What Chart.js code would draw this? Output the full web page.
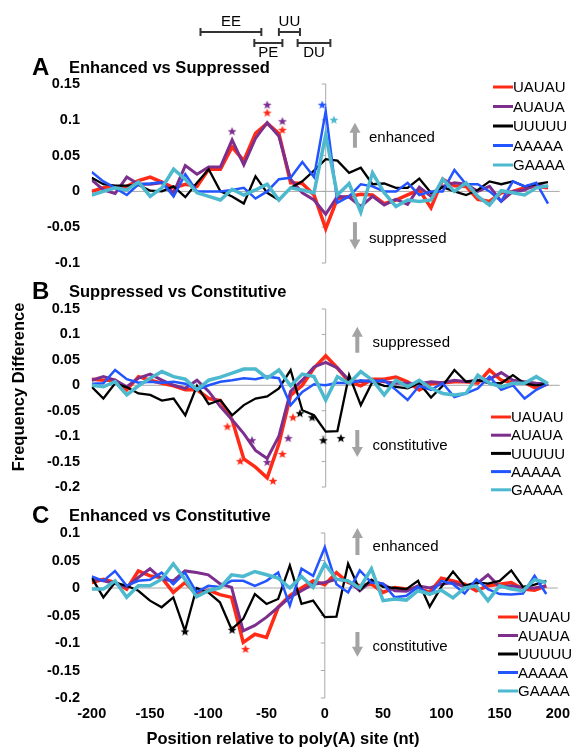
<!DOCTYPE html>
<html lang="en">
<head>
<meta charset="UTF-8">
<title>Frequency Difference by motif</title>
<script src="https://cdn.jsdelivr.net/npm/chart.js"></script>
<style>
  body { margin: 0; background: #fff; }
  #wrap { position: relative; width: 577px; height: 751px; }
  #wrap canvas { position: absolute; left: 0; top: 0; }
</style>
</head>
<body>
<div id="wrap">
  <canvas id="panelA" width="577" height="751"></canvas>
  <canvas id="panelB" width="577" height="751"></canvas>
  <canvas id="panelC" width="577" height="751"></canvas>
</div>
<script>
const positions = [-200, -190, -180, -170, -160, -150, -140, -130, -120, -110,
                   -100, -90, -80, -70, -60, -50, -40, -30, -20, -10,
                   0, 10, 20, 30, 40, 50, 60, 70, 80, 90,
                   100, 110, 120, 130, 140, 150, 160, 170, 180, 190];
const motifs = ['UAUAU', 'AUAUA', 'UUUUU', 'AAAAA', 'GAAAA'];

// A: Enhanced vs Suppressed
const aUAUAU = [0, 0.005, 0.006, 0.007, 0.015, 0.02, 0.013, 0.005, 0.01, 0.007, 0.031, 0.031, 0.062, 0.043, 0.081, 0.095, 0.081, 0.012, 0.011, -0.005, -0.052, -0.01, -0.007, -0.004, -0.005, -0.017, -0.012, -0.005, 0.002, -0.023, 0.017, 0.008, 0.007, -0.011, -0.014, -0.002, 0, 0.005, 0.007, 0.005];
const aAUAUA = [0.016, 0.002, -0.003, 0.02, 0.01, 0.01, 0.012, -0.002, 0.036, 0.024, 0.034, 0.034, 0.072, 0.037, 0.074, 0.096, 0.077, 0.017, -0.002, -0.012, -0.032, -0.007, -0.008, -0.021, -0.007, -0.019, -0.011, -0.018, 0.006, -0.007, 0.007, 0.012, 0.01, 0, 0.007, -0.014, 0, 0.002, 0.01, 0.006];
const aUUUUU = [0.019, 0.01, 0.008, 0.008, 0.009, 0.001, 0, 0.007, -0.008, 0.012, 0.031, 0, -0.007, -0.017, 0.021, -0.002, -0.012, 0.005, 0.014, 0.029, 0.045, 0.043, 0.026, 0.033, 0.01, 0.011, 0.005, 0.005, 0.018, -0.002, 0.006, 0, -0.005, 0.002, 0.014, 0.01, 0.014, 0.007, 0.01, 0.013];
const aAAAAA = [0.027, 0.014, 0.005, -0.005, 0.01, 0.011, 0.013, -0.007, 0.024, 0, 0, 0, 0.002, 0.005, -0.01, 0, 0.017, 0.019, 0.041, 0.02, 0.112, -0.016, -0.007, 0.01, 0.007, 0, 0, 0.012, -0.005, 0, 0, 0.03, 0.01, 0.01, 0, -0.014, 0.014, 0.007, 0.012, -0.017];
const aGAAAA = [-0.005, 0, 0.005, 0.002, 0.013, -0.007, 0.005, 0.031, 0.017, -0.002, -0.007, -0.012, 0.003, -0.005, 0.002, 0.01, -0.012, 0.005, 0.002, -0.002, 0.079, -0.005, 0.011, -0.029, 0.026, -0.002, -0.021, -0.012, -0.014, -0.012, 0.017, 0, 0.012, -0.007, -0.019, 0.001, -0.002, -0.005, 0.005, 0.008];
const aStars = [['AUAUA', -80, 0.084], ['AUAUA', -50, 0.121], ['UAUAU', -50, 0.11], ['AUAUA', -37, 0.098], ['UAUAU', -37, 0.086], ['AAAAA', -3, 0.121], ['GAAAA', 7, 0.1]];

// B: Suppressed vs Constitutive
const bUAUAU = [0.012, 0.01, 0.01, -0.009, 0.017, 0.01, 0.004, -0.001, -0.009, -0.009, -0.026, -0.03, -0.068, -0.145, -0.161, -0.182, -0.115, -0.02, 0, 0.034, 0.058, 0.034, 0.007, -0.001, 0.012, 0.012, 0.016, 0.007, -0.009, 0.003, 0.005, 0.007, 0.007, 0.004, 0.03, 0.01, 0.005, 0.005, -0.006, 0.003];
const bAUAUA = [0.01, 0.017, 0.01, -0.003, 0.014, 0.022, 0.01, 0, -0.006, 0.01, -0.012, -0.042, -0.068, -0.095, -0.128, -0.144, -0.1, -0.012, 0.01, 0.036, 0.045, 0.034, 0.01, 0.007, 0.01, 0.007, 0.004, 0.004, 0.003, 0.007, 0.005, 0.01, 0.007, 0.01, 0.012, 0.025, 0.01, 0.007, 0.004, 0.003];
const bUUUUU = [-0.003, -0.026, 0.004, -0.004, -0.016, -0.019, -0.03, -0.026, -0.059, -0.001, -0.037, -0.029, -0.059, -0.039, -0.026, -0.022, -0.006, 0.03, -0.049, -0.059, -0.091, -0.09, 0.02, -0.039, 0.007, -0.001, -0.003, -0.006, 0.004, -0.024, -0.001, 0.03, 0.007, 0.01, 0.004, 0.004, 0.02, 0.003, 0, 0.003];
const bAAAAA = [0.003, 0.004, 0.03, 0.012, 0.005, 0.007, 0.005, 0.007, 0.003, -0.009, 0, 0.007, 0.01, 0.014, 0.012, 0.017, 0.014, -0.039, -0.013, 0.002, 0, 0.005, 0.004, 0.01, 0.007, 0.01, -0.009, -0.029, -0.001, -0.009, 0.004, -0.023, -0.016, -0.006, 0.017, -0.009, 0, -0.026, -0.009, 0.003];
const bGAAAA = [0, -0.003, 0.007, -0.019, -0.001, 0.014, 0.027, 0.017, 0.012, -0.009, 0.01, 0.016, 0.024, 0.032, 0.032, 0.014, 0.03, -0.001, 0.022, 0.017, -0.029, 0.017, 0.004, 0.027, 0.01, -0.019, 0.01, -0.003, 0.01, -0.006, -0.016, -0.019, -0.016, 0.02, 0.004, -0.003, 0.004, 0.004, 0.017, 0.003];
const bStars = [['UAUAU', -84, -0.081], ['UAUAU', -73, -0.149], ['UAUAU', -45, -0.188], ['UAUAU', -37, -0.135], ['UAUAU', -28, -0.063],
                ['AUAUA', -63, -0.108], ['AUAUA', -50, -0.151], ['AUAUA', -32, -0.104],
                ['UUUUU', -22, -0.055], ['UUUUU', -11.5, -0.063], ['UUUUU', -2, -0.108], ['UUUUU', 13, -0.104]];

// C: Enhanced vs Constitutive
const cUAUAU = [0.01, 0.016, 0.01, -0.002, 0.031, 0.022, 0.019, -0.008, 0.01, -0.011, -0.004, -0.012, -0.017, -0.099, -0.084, -0.09, -0.035, -0.014, 0, 0.013, 0.006, 0.028, 0.01, 0.004, 0.007, -0.008, 0.001, -0.002, 0, -0.008, 0.018, 0.013, 0.007, -0.005, 0.004, 0.007, 0.01, -0.002, -0.004, 0.004];
const cAUAUA = [0.016, 0.013, 0.008, 0.002, 0.019, 0.035, 0.016, 0.013, 0.031, 0.028, 0.024, 0.008, 0.001, -0.078, -0.068, -0.053, -0.035, -0.017, -0.005, 0.007, 0.01, 0.016, 0.013, -0.005, 0.013, 0.007, -0.005, -0.006, 0.004, 0, 0.007, 0.01, 0.002, 0.007, 0.024, 0.002, 0.004, 0.001, 0, 0.004];
const cUUUUU = [0.019, -0.017, 0.01, 0.004, -0.005, -0.023, -0.035, -0.017, -0.078, 0, -0.008, -0.026, -0.075, -0.056, -0.011, -0.029, -0.02, 0.041, -0.029, -0.023, -0.053, -0.052, 0.044, -0.004, 0.015, 0.002, 0, -0.002, 0.013, -0.034, 0.002, 0.03, 0.004, 0.01, 0.008, 0.013, 0.032, 0.002, 0.006, 0.013];
const cAAAAA = [0.021, 0.013, 0.031, 0.004, 0.013, 0.015, 0.028, 0.007, 0.028, -0.008, 0.004, 0.002, 0.013, 0.013, 0.004, 0.013, 0.028, -0.032, 0.035, 0.022, 0.074, 0.007, -0.008, 0.032, 0.01, 0.008, -0.017, -0.014, 0.002, -0.012, 0.013, 0.007, -0.01, 0.016, -0.002, -0.011, -0.012, -0.01, 0.022, -0.011];
const cGAAAA = [-0.002, -0.002, 0.013, -0.017, 0.004, 0.004, 0.016, 0.044, 0.016, -0.016, -0.005, 0, 0.024, 0.021, 0.03, 0.024, 0.018, 0, 0.021, 0.001, 0.044, 0.016, 0.013, 0, 0.035, -0.023, -0.02, -0.022, -0.005, -0.011, -0.004, -0.018, 0, 0.004, -0.023, 0.004, -0.002, -0.005, 0.015, 0.01];
const cStars = [['UUUUU', -120, -0.079], ['UUUUU', -79.5, -0.076], ['UAUAU', -68, -0.111]];

// regions drawn over panel A (nt)
const regionNames = ['EE', 'PE', 'UU', 'DU'];
const regionStart = [-107, -61, -40, -24];
const regionEnd = [-55, -37, -22, 4];
const regionRow = [0, 1, 0, 1];

const xTicks = [-200, -150, -100, -50, 0, 50, 100, 150, 200];

// styles
const colours = { UAUAU: '#ff2b17', AUAUA: '#7d2f8e', UUUUU: '#000000', AAAAA: '#2255ff', GAAAA: '#4cb9cf' };
const widths = { UAUAU: 3.5, AUAUA: 3, UUUUU: 2.3, AAAAA: 2.5, GAAAA: 3.5 };
const FONT = '"Liberation Sans", Arial, sans-serif';
Chart.defaults.font.family = FONT;
Chart.defaults.color = '#000';

function starImage(colour) {
  const c = document.createElement('canvas');
  c.width = 10; c.height = 10;
  const g = c.getContext('2d');
  g.fillStyle = colour;
  g.beginPath();
  for (let k = 0; k < 10; k++) {
    const r = k % 2 ? 2 : 4.6;
    const ang = -Math.PI / 2 + k * Math.PI / 5;
    g.lineTo(5 + r * Math.cos(ang), 5.3 + r * Math.sin(ang));
  }
  g.closePath();
  g.fill();
  return c;
}
const starImgs = {};
motifs.forEach(m => starImgs[m] = starImage(colours[m]));

function arrow(ctx, x, yBase, yTip) {
  const dir = yTip < yBase ? -1 : 1;
  ctx.fillStyle = '#a3a3a3';
  ctx.fillRect(x - 2, Math.min(yBase, yTip + dir * -8), 4, Math.abs(yTip - yBase) - 8);
  ctx.beginPath();
  ctx.moveTo(x, yTip);
  ctx.lineTo(x - 5.5, yTip - dir * 10);
  ctx.lineTo(x + 5.5, yTip - dir * 10);
  ctx.closePath();
  ctx.fill();
}

const panelDecor = {
  id: 'panelDecor',
  beforeDatasetsDraw(chart) {
    const { ctx, chartArea: a, scales: { x, y } } = chart;
    const x0 = x.getPixelForValue(0), y0 = y.getPixelForValue(0);
    ctx.save();
    ctx.strokeStyle = '#a8a8a8';
    ctx.lineWidth = 1;
    ctx.beginPath();
    ctx.moveTo(a.left, y0); ctx.lineTo(a.right, y0);
    ctx.moveTo(x0, a.top); ctx.lineTo(x0, a.bottom);
    y.ticks.forEach(t => {
      const py = y.getPixelForValue(t.value);
      ctx.moveTo(x0 - 4, py); ctx.lineTo(x0, py);
    });
    ctx.stroke();
    ctx.restore();
  },
  afterDraw(chart, args, o) {
    const { ctx, scales: { x, y } } = chart;
    ctx.save();
    ctx.fillStyle = '#000';
    ctx.textBaseline = 'alphabetic';
    ctx.textAlign = 'left';
    ctx.font = 'bold 24px ' + FONT;
    ctx.fillText(o.letter, 32, o.titleY + 2);
    ctx.font = 'bold 16.5px ' + FONT;
    ctx.fillText(o.title, 69, o.titleY);

    // direction arrows
    const ax = x.getPixelForValue(o.arrowX);
    arrow(ctx, ax, y.getPixelForValue(o.up[0]), y.getPixelForValue(o.up[1]));
    arrow(ctx, ax, y.getPixelForValue(o.down[0]), y.getPixelForValue(o.down[1]));
    ctx.fillStyle = '#000';
    ctx.font = '15px ' + FONT;
    ctx.textBaseline = 'middle';
    ctx.fillText(o.upText, x.getPixelForValue(o.textX), y.getPixelForValue(o.up[2]));
    ctx.fillText(o.downText, x.getPixelForValue(o.textX), y.getPixelForValue(o.down[2]));

    // legend
    motifs.forEach((m, k) => {
      const ly = o.legend[1] + k * o.legend[2];
      ctx.strokeStyle = colours[m];
      ctx.lineWidth = 3;
      ctx.beginPath();
      ctx.moveTo(o.legend[0], ly); ctx.lineTo(o.legend[0] + 20, ly);
      ctx.stroke();
      ctx.fillText(m, o.legend[0] + 20, ly + 1);
    });

    if (o.regions) {
      ctx.strokeStyle = '#333';
      ctx.lineWidth = 2;
      ctx.font = '15px ' + FONT;
      ctx.textAlign = 'center';
      regionNames.forEach((name, k) => {
        const x1 = x.getPixelForValue(regionStart[k]), x2 = x.getPixelForValue(regionEnd[k]);
        const ry = regionRow[k] ? 43 : 32;
        ctx.beginPath();
        ctx.moveTo(x1, ry); ctx.lineTo(x2, ry);
        ctx.moveTo(x1, ry - 4); ctx.lineTo(x1, ry + 4);
        ctx.moveTo(x2, ry - 4); ctx.lineTo(x2, ry + 4);
        ctx.stroke();
        ctx.fillText(name, (x1 + x2) / 2, regionRow[k] ? 53 : 22);
      });
    }

    if (o.axisTitles) {
      ctx.font = 'bold 16.5px ' + FONT;
      ctx.textAlign = 'center';
      ctx.textBaseline = 'middle';
      ctx.fillText('Position relative to poly(A) site (nt)', 283, 739);
      ctx.translate(19, 387);
      ctx.rotate(-Math.PI / 2);
      ctx.fillText('Frequency Difference', 0, 0);
    }
    ctx.restore();
  }
};

function makeDatasets(series, stars) {
  const sets = motifs.map((m, k) => ({
    label: m,
    data: positions.map((p, i) => ({ x: p, y: series[k][i] })),
    borderColor: colours[m],
    backgroundColor: colours[m],
    borderWidth: widths[m],
    pointRadius: 0,
    tension: 0,
    order: 10 - k
  }));
  sets.push({
    type: 'scatter',
    label: 'significant',
    data: stars.map(s => ({ x: s[1], y: s[2] })),
    pointStyle: stars.map(s => starImgs[s[0]]),
    pointRadius: 5,
    order: 0
  });
  return sets;
}

function makeChart(id, series, stars, yMin, yMax, top, bottom, showX, decor) {
  return new Chart(document.getElementById(id), {
    type: 'line',
    data: { datasets: makeDatasets(series, stars) },
    plugins: [panelDecor],
    options: {
      responsive: false,
      animation: false,
      layout: { padding: { top: top, bottom: showX ? 751 - bottom - 30 : 751 - bottom, left: 41.7, right: 17.3 } },
      plugins: { legend: { display: false }, tooltip: { enabled: false }, panelDecor: decor },
      scales: {
        x: {
          type: 'linear', min: -200, max: 200, display: showX,
          grid: { display: false, drawTicks: false }, border: { display: false },
          afterBuildTicks: s => { s.ticks = xTicks.map(v => ({ value: v })); },
          ticks: { padding: 7, color: '#000', font: { size: 14.5, weight: 'bold' } },
          afterFit: s => { s.height = showX ? 30 : 0; }
        },
        y: {
          min: yMin, max: yMax,
          grid: { display: false, drawTicks: false }, border: { display: false },
          ticks: {
            stepSize: 0.05, padding: 11.7, color: '#000', font: { size: 14.5, weight: 'bold' },
            callback: v => { const r = Math.round(v * 100) / 100; return r === 0 ? '0' : String(r); }
          },
          afterFit: s => { s.width = 50; }
        }
      }
    }
  });
}

makeChart('panelA', [aUAUAU, aAUAUA, aUUUUU, aAAAAA, aGAAAA], aStars, -0.1, 0.15, 84, 263, false, {
  letter: 'A', title: 'Enhanced vs Suppressed', titleY: 73,
  arrowX: 25, up: [0.061, 0.096, 0.075], down: [-0.043, -0.081, -0.066], textX: 37,
  upText: 'enhanced', downText: 'suppressed', legend: [493, 87, 19.5], regions: true
});
makeChart('panelB', [bUAUAU, bAUAUA, bUUUUU, bAAAAA, bGAAAA], bStars, -0.2, 0.15, 309, 487, false, {
  letter: 'B', title: 'Suppressed vs Constitutive', titleY: 297,
  arrowX: 27, up: [0.064, 0.115, 0.083], down: [-0.088, -0.141, -0.119], textX: 40,
  upText: 'suppressed', downText: 'constitutive', legend: [491, 417, 18.2]
});
makeChart('panelC', [cUAUAU, cAUAUA, cUUUUU, cAAAAA, cGAAAA], cStars, -0.2, 0.1, 533, 698, true, {
  letter: 'C', title: 'Enhanced vs Constitutive', titleY: 521,
  arrowX: 28, up: [0.06, 0.109, 0.075], down: [-0.08, -0.125, -0.107], textX: 41,
  upText: 'enhanced', downText: 'constitutive', legend: [498, 617, 18.5], axisTitles: true
});
</script>
</body>
</html>
